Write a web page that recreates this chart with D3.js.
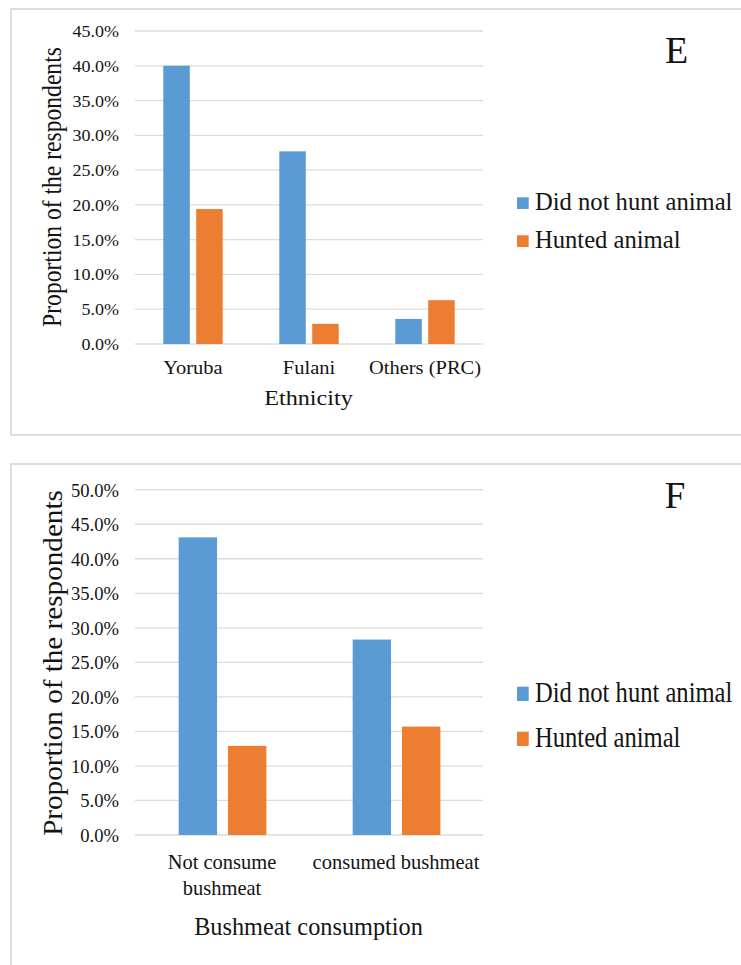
<!DOCTYPE html>
<html>
<head>
<meta charset="utf-8">
<script src="https://cdn.jsdelivr.net/npm/d3@7"></script>
<style>
  html, body { margin: 0; padding: 0; background: #fff; }
  svg { display: block; }
  text { font-family: "Liberation Serif", "Times New Roman", serif; fill: #141414; }
</style>
</head>
<body>
<svg id="chart" width="741" height="965"></svg>
<script>
// ---- Data ----
const seriesNames = ["Did not hunt animal", "Hunted animal"];
const seriesColors = ["#5b9bd5", "#ed7d31"];

// Panel E
const ethnicityCategories = ["Yoruba", "Fulani", "Others (PRC)"];
const ethnicityDidNotHunt = [40.0, 27.7, 3.6];
const ethnicityHunted = [19.4, 2.9, 6.3];
const ethnicityTicks = [0, 5, 10, 15, 20, 25, 30, 35, 40, 45];

// Panel F
const bushmeatCategories = [["Not consume", "bushmeat"], ["consumed bushmeat"]];
const bushmeatDidNotHunt = [43.1, 28.3];
const bushmeatHunted = [12.9, 15.7];
const bushmeatTicks = [0, 5, 10, 15, 20, 25, 30, 35, 40, 45, 50];

const svg = d3.select("#chart");
const fmt = d => d3.format(".1f")(d) + "%";

// helper for (possibly scaled) text
function stext(g, x, y, str, size, opts = {}) {
  const sx = opts.sx || 1, sy = opts.sy || 1, rot = opts.rot || 0;
  const t = g.append("text")
    .attr("transform", `translate(${x},${y}) rotate(${rot}) scale(${sx},${sy})`)
    .attr("font-size", size)
    .attr("text-anchor", opts.anchor || "start")
    .text(str);
  return t;
}

function drawPanel(cfg) {
  const g = svg.append("g");
  // frame
  g.append("rect")
    .attr("x", cfg.frame[0]).attr("y", cfg.frame[1])
    .attr("width", cfg.frame[2]).attr("height", cfg.frame[3])
    .attr("fill", "none").attr("stroke", "#d6d6d6").attr("stroke-width", 1.6);

  const x = d3.scaleBand().domain(d3.range(cfg.cats.length))
    .range([cfg.plot.left, cfg.plot.right]).paddingInner(0).paddingOuter(0);
  const xs = d3.scaleBand().domain(d3.range(2))
    .range([x.bandwidth() * cfg.groupFrac[0], x.bandwidth() * cfg.groupFrac[1]])
    .paddingInner(cfg.barGap).paddingOuter(0);
  const y = d3.scaleLinear().domain([0, cfg.ticks[cfg.ticks.length - 1]])
    .range([cfg.plot.bottom, cfg.plot.top]);

  // gridlines
  g.append("g").selectAll("line").data(cfg.ticks).join("line")
    .attr("x1", cfg.plot.left).attr("x2", cfg.plot.right)
    .attr("y1", d => y(d)).attr("y2", d => y(d))
    .attr("stroke", "#dcdcdc").attr("stroke-width", 1.3);

  // y tick labels
  const yl = g.append("g");
  cfg.ticks.forEach(t => {
    stext(yl, cfg.plot.left - 16, y(t) + cfg.yTick.off, fmt(t), cfg.yTick.size,
      { anchor: "end", sx: cfg.yTick.sx, sy: cfg.yTick.sy });
  });

  // bars
  const series = [cfg.s0, cfg.s1];
  const bars = g.append("g");
  series.forEach((vals, si) => {
    bars.selectAll(null).data(vals).join("rect")
      .attr("x", (d, i) => x(i) + xs(si))
      .attr("width", xs.bandwidth())
      .attr("y", d => y(d))
      .attr("height", d => y(0) - y(d))
      .attr("fill", seriesColors[si]);
  });

  // x tick labels
  const xl = g.append("g");
  cfg.cats.forEach((c, i) => {
    const lines = Array.isArray(c) ? c : [c];
    lines.forEach((ln, li) => {
      stext(xl, x(i) + x.bandwidth() / 2, cfg.xTick.base + li * cfg.xTick.lh, ln, cfg.xTick.size,
        { anchor: "middle", sx: cfg.xTick.sx, sy: cfg.xTick.sy });
    });
  });

  // axis titles
  stext(g, cfg.xTitle.x, cfg.xTitle.y, cfg.xTitle.text, cfg.xTitle.size,
    { anchor: "middle", sx: cfg.xTitle.sx, sy: cfg.xTitle.sy });
  stext(g, cfg.yTitle.x, cfg.yTitle.y, cfg.yTitle.text, cfg.yTitle.size,
    { anchor: "middle", rot: -90, sx: cfg.yTitle.sx, sy: cfg.yTitle.sy });

  // panel letter
  stext(g, cfg.letter.x, cfg.letter.y, cfg.letter.text, cfg.letter.size, { anchor: "middle" });

  // legend
  const lg = g.append("g");
  seriesNames.forEach((n, i) => {
    const ly = cfg.legend.y + i * cfg.legend.step;
    lg.append("rect").attr("x", cfg.legend.x).attr("y", ly - cfg.legend.sq[1])
      .attr("width", cfg.legend.sq[0]).attr("height", cfg.legend.sq[1])
      .attr("fill", seriesColors[i]);
    stext(lg, cfg.legend.x + 18, ly + 1, n, cfg.legend.size, { sy: cfg.legend.sy });
  });
}

drawPanel({
  frame: [11, 9, 740, 426],
  cats: ethnicityCategories, s0: ethnicityDidNotHunt, s1: ethnicityHunted, ticks: ethnicityTicks,
  plot: { left: 135, right: 483, top: 31, bottom: 344 },
  groupFrac: [0.244, 0.756], barGap: 0.195,
  yTick: { size: 17.5, off: 6, sx: 1.03, sy: 1 },
  xTick: { size: 19.5, base: 374, lh: 26, sx: 1.05, sy: 1 },
  xTitle: { x: 308.5, y: 405, text: "Ethnicity", size: 20.5, sx: 1.18, sy: 1 },
  yTitle: { x: 61, y: 187, text: "Proportion of the respondents", size: 23.6, sx: 1, sy: 1.12 },
  letter: { x: 676.5, y: 63, text: "E", size: 38 },
  legend: { x: 517, y: 209, step: 38, sq: [11.7, 11.7], size: 24.6, sy: 1 }
});

drawPanel({
  frame: [11, 464, 740, 520],
  cats: bushmeatCategories, s0: bushmeatDidNotHunt, s1: bushmeatHunted, ticks: bushmeatTicks,
  plot: { left: 135, right: 483, top: 489.7, bottom: 835 },
  groupFrac: [0.251, 0.755], barGap: 0.222,
  yTick: { size: 18.6, off: 7, sx: 1, sy: 1.06 },
  xTick: { size: 20.5, base: 869, lh: 26, sx: 1, sy: 1.04 },
  xTitle: { x: 308.5, y: 935, text: "Bushmeat consumption", size: 24.3, sx: 1, sy: 1.07 },
  yTitle: { x: 62, y: 663, text: "Proportion of the respondents", size: 27, sx: 1.08, sy: 1 },
  letter: { x: 675, y: 508, text: "F", size: 37 },
  legend: { x: 517, y: 701, step: 45, sq: [11.7, 14.3], size: 24.6, sy: 1.2 }
});
</script>
</body>
</html>
